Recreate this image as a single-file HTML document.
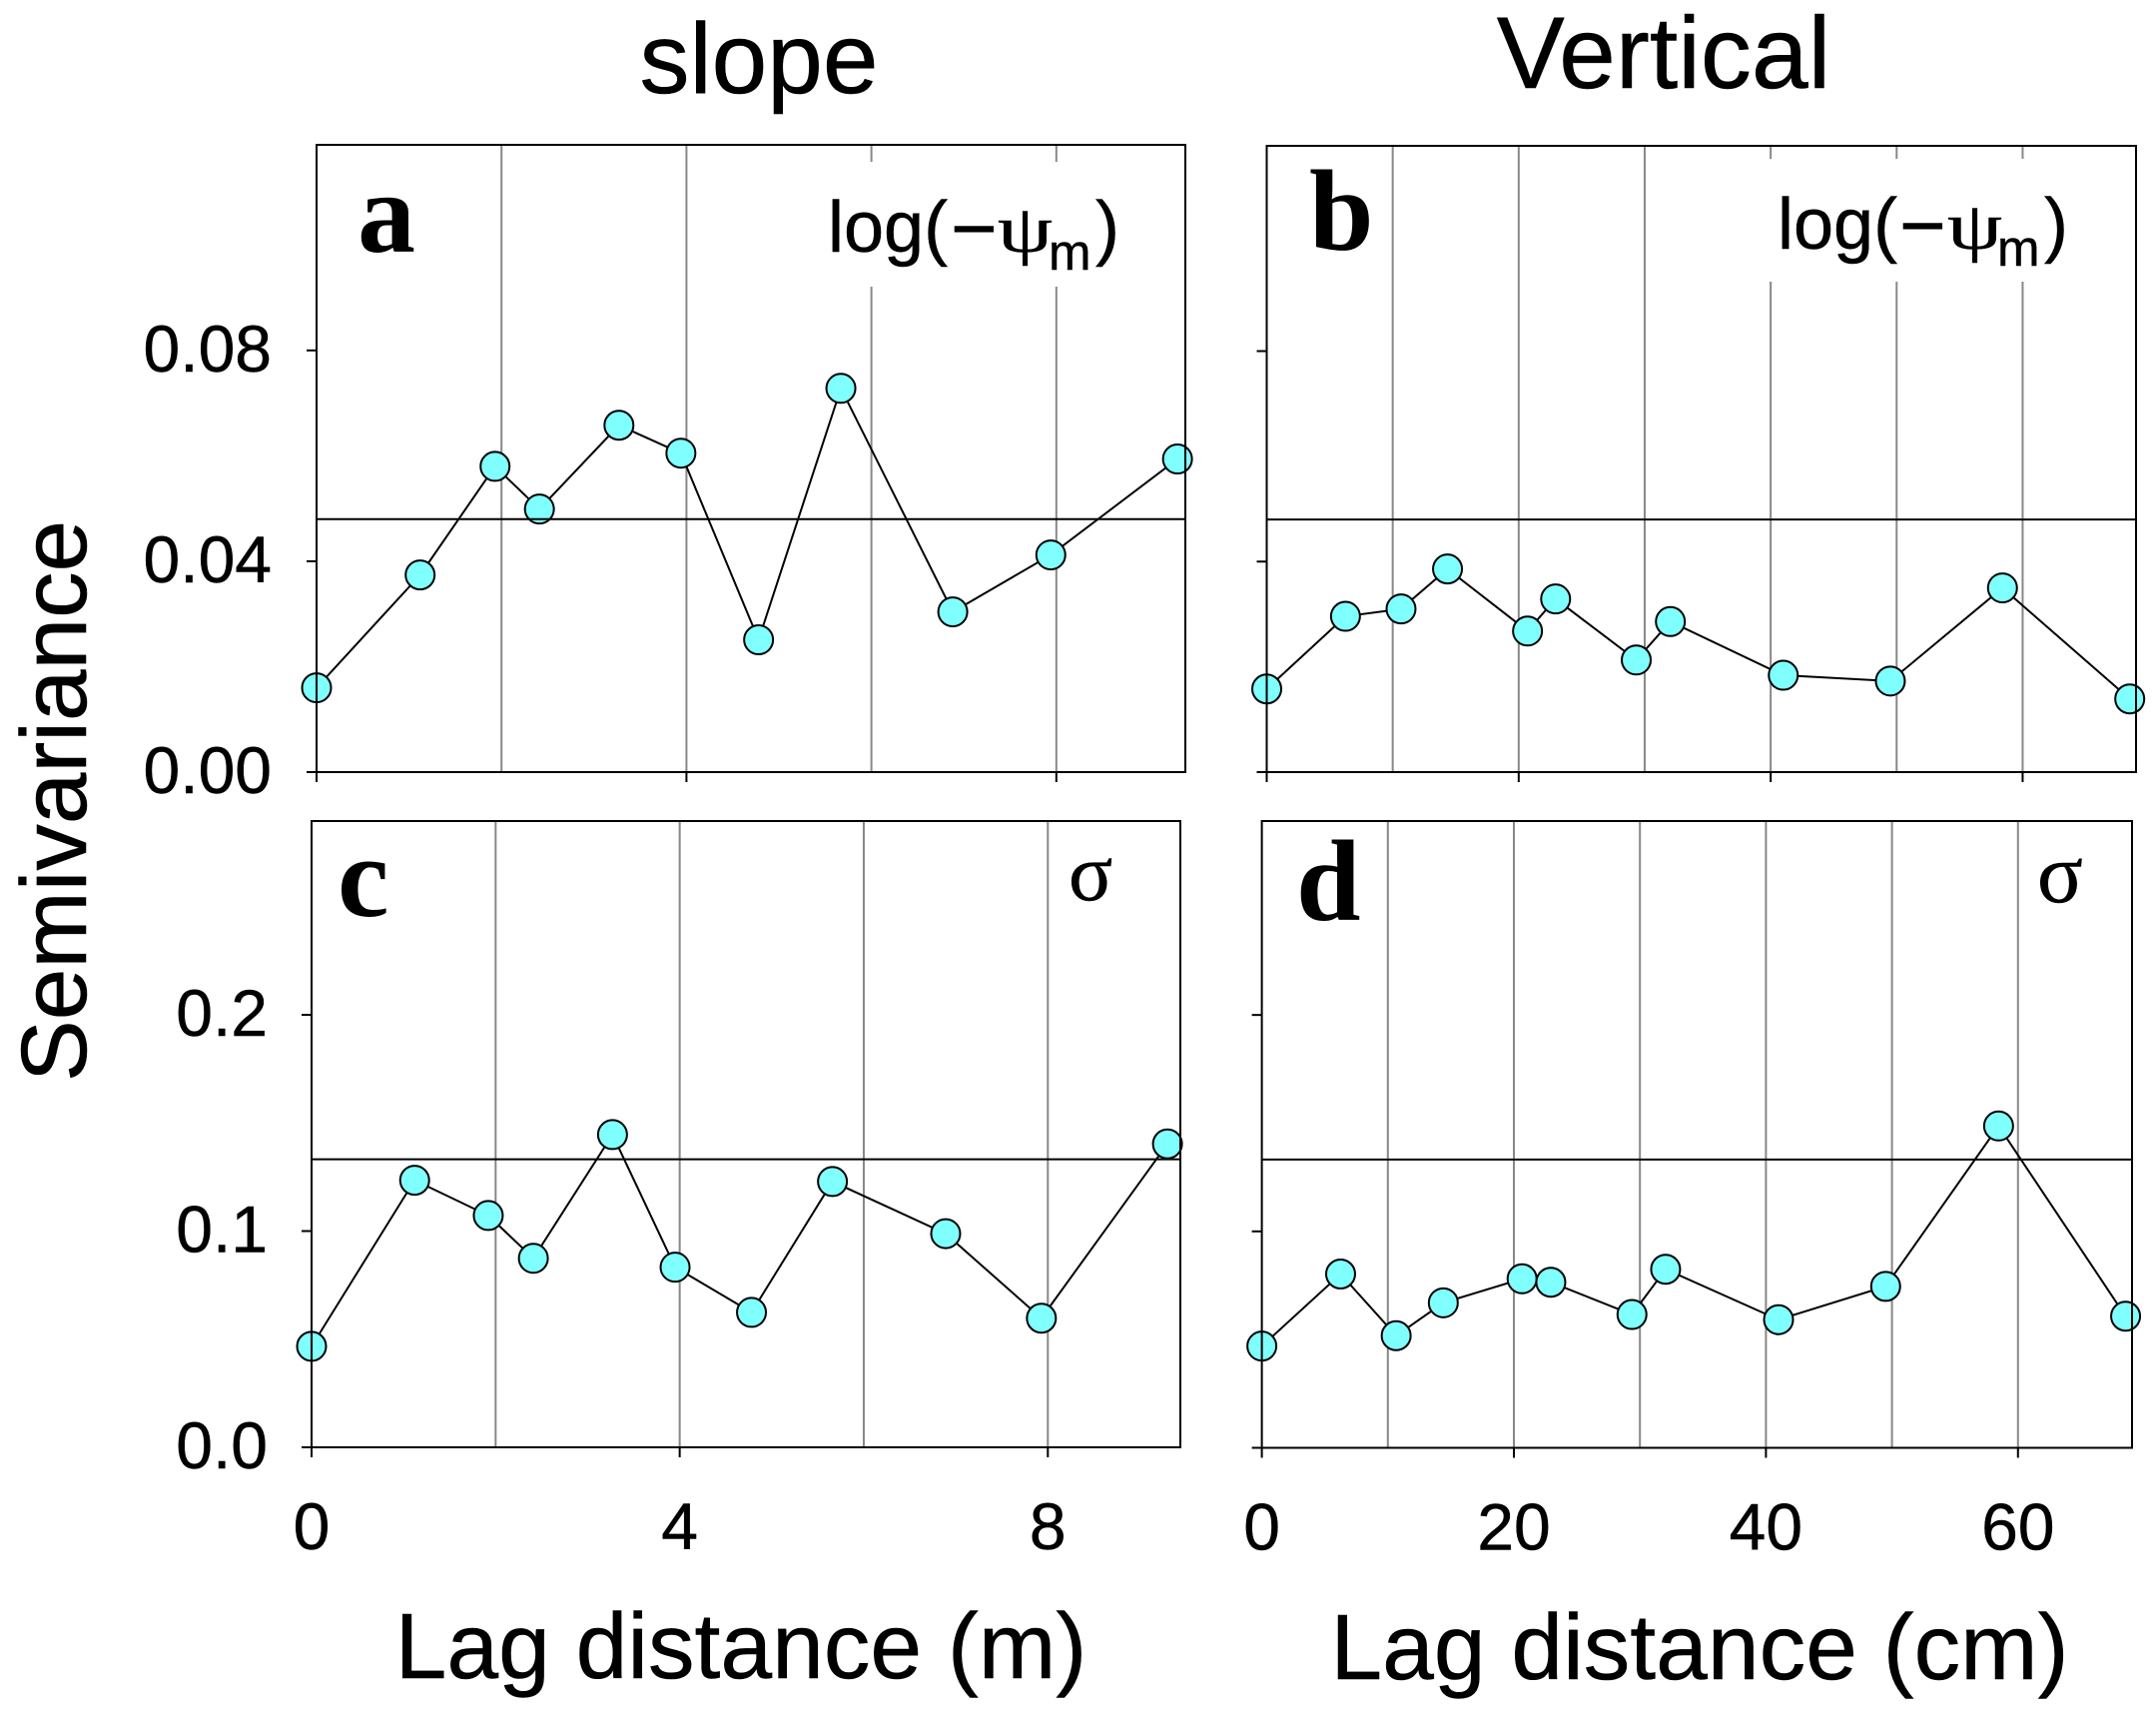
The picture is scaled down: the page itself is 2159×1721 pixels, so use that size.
<!DOCTYPE html>
<html lang="en">
<head>
<meta charset="utf-8">
<title>Semivariance versus lag distance</title>
<style>
  html, body { margin: 0; padding: 0; background: #fff; }
  svg { display: block; }
  text { font-family: "Liberation Sans", sans-serif; fill: #000; stroke: #000; stroke-width: 0.5px; }
  .letter { font-family: "Liberation Serif", serif; font-weight: bold; font-size: 116px; stroke: none; }
  .greek { font-family: "Liberation Serif", serif; }
</style>
</head>
<body>
<svg id="chart" xmlns="http://www.w3.org/2000/svg" width="2159" height="1721" viewBox="0 0 2159 1721">
  <rect width="2159" height="1721" fill="#fff"/>
  <text x="760" y="93" font-size="100" text-anchor="middle">slope</text>
  <text x="1666" y="88" font-size="102" text-anchor="middle">Vertical</text>
  <text transform="translate(86 802) rotate(-90)" font-size="92.8" text-anchor="middle">Semivariance</text>
  <text x="742" y="1680" font-size="93" text-anchor="middle">Lag distance (m)</text>
  <text x="1702" y="1681" font-size="93" text-anchor="middle">Lag distance (cm)</text>
  <g id="panels"></g>
  <text class="letter" x="358" y="252">a</text>
  <text class="letter" x="1311" y="250">b</text>
  <text class="letter" x="338" y="917">c</text>
  <text class="letter" x="1298" y="921">d</text>
  <g>
    <text x="829" y="252" font-size="72">log(</text>
    <text x="952" y="256" font-size="80">&#8722;</text>
    <text class="greek" transform="translate(999 252) scale(1.22 0.92)" font-size="72">&#968;</text>
    <text x="1050" y="270" font-size="51">m</text>
    <text x="1097" y="252" font-size="72">)</text>
  </g>
  <g>
    <text x="1780" y="249" font-size="72">log(</text>
    <text x="1902" y="253" font-size="80">&#8722;</text>
    <text class="greek" transform="translate(1950 249) scale(1.22 0.92)" font-size="72">&#968;</text>
    <text x="2000" y="266" font-size="51">m</text>
    <text x="2047" y="249" font-size="72">)</text>
  </g>
  <text class="greek" x="1070" y="901" font-size="82">&#963;</text>
  <text class="greek" x="2040" y="903" font-size="85">&#963;</text>
</svg>
<script>
// Panel a: log(-psi_m) on the slope
const aLag = [0, 1.12, 1.93, 2.41, 3.27, 3.94, 4.78, 5.67, 6.88, 7.94, 9.31];
const aValues = [0.016, 0.0374, 0.058, 0.0499, 0.0658, 0.0605, 0.0251, 0.0728, 0.0304, 0.0412, 0.0594];
const aSill = 0.048;
// Panel b: log(-psi_m) vertical
const bLag = [0, 6.25, 10.66, 14.35, 20.7, 22.93, 29.33, 32.04, 41, 49.5, 58.4, 68.5];
const bValues = [0.0158, 0.0296, 0.031, 0.0386, 0.0268, 0.0329, 0.0213, 0.0286, 0.0184, 0.0173, 0.035, 0.0139];
const bSill = 0.048;
// Panel c: sigma on the slope
const cLag = [0, 1.12, 1.92, 2.41, 3.27, 3.95, 4.78, 5.66, 6.89, 7.93, 9.3];
const cValues = [0.0467, 0.1235, 0.1072, 0.0874, 0.1446, 0.0833, 0.0624, 0.1229, 0.0988, 0.0597, 0.1403];
const cSill = 0.1332;
// Panel d: sigma vertical
const dLag = [0, 6.25, 10.66, 14.4, 20.65, 22.93, 29.37, 32.04, 41, 49.5, 58.46, 68.54];
const dValues = [0.047, 0.0803, 0.0518, 0.067, 0.0781, 0.0765, 0.0616, 0.0825, 0.0592, 0.0746, 0.1487, 0.0608];
const dSill = 0.1332;
// Axis ticks and labels
const slopeXTicks = [0, 4, 8];
const slopeXGrid = [2, 4, 6, 8];
const slopeXLabels = ["0", "4", "8"];
const verticalXTicks = [0, 20, 40, 60];
const verticalXGrid = [10, 20, 30, 40, 50, 60];
const verticalXLabels = ["0", "20", "40", "60"];
const upperYTicks = [0, 0.04, 0.08];
const upperYLabels = ["0.00", "0.04", "0.08"];
const lowerYTicks = [0, 0.1, 0.2];
const lowerYLabels = ["0.0", "0.1", "0.2"];

const NS = "http://www.w3.org/2000/svg";
const root = document.getElementById("panels");

function make(parent, tag, attrs) {
  const el = document.createElementNS(NS, tag);
  for (const k in attrs) el.setAttribute(k, attrs[k]);
  parent.appendChild(el);
  return el;
}

function drawPanel(p) {
  const sx = v => p.left + (v / p.xMax) * (p.right - p.left);
  const sy = v => p.bottom - (v / p.yMax) * (p.bottom - p.top);

  const g = make(root, "g", {});
  
  

  p.grid.forEach(v => {
    const gl = make(g, "line", { x1: sx(v), x2: sx(v), y1: p.top, y2: p.bottom, stroke: "#888", "stroke-width": 2 });
    
    
  });

  if (p.mask) {
    const m = make(g, "rect", { x: p.mask[0], y: p.mask[1], width: p.mask[2], height: p.mask[3], fill: "#fff" });
    
    
  }

  const pts = p.lag.map((v, i) => sx(v) + "," + sy(p.values[i])).join(" ");
  const series = make(g, "polyline", { points: pts, fill: "none", stroke: "#000", "stroke-width": 2 });
  
  

  p.lag.forEach((v, i) => {
    const c = make(g, "ellipse", { cx: sx(v), cy: sy(p.values[i]), rx: 14.5, ry: 14.5, fill: "#80ffff", stroke: "#000", "stroke-width": 2 });
    
    
  });

  const sill = make(g, "line", { x1: p.left, x2: p.right, y1: sy(p.sill), y2: sy(p.sill), stroke: "#000", "stroke-width": 2 });
  
  

  const frame = make(g, "rect", { x: p.left, y: p.top, width: p.right - p.left, height: p.bottom - p.top, fill: "none", stroke: "#000", "stroke-width": 2 });
  
  

  p.yTicks.forEach((v, i) => {
    const t = make(g, "line", { x1: p.left - 10, x2: p.left, y1: sy(v), y2: sy(v), stroke: "#000", "stroke-width": 2 });
    
    
    if (p.yLabels) {
      const l = make(g, "text", { x: p.yLabelX, y: sy(v) + 21, "font-size": 66, "text-anchor": "end" });
      l.textContent = p.yLabels[i];
      
      
    }
  });

  p.xTicks.forEach((v, i) => {
    const t = make(g, "line", { x1: sx(v), x2: sx(v), y1: p.bottom, y2: p.bottom + 10, stroke: "#000", "stroke-width": 2 });
    
    
    if (p.xLabels) {
      const l = make(g, "text", { x: sx(v), y: p.bottom + 102, "font-size": 66, "text-anchor": "middle" });
      l.textContent = p.xLabels[i];
      
      
    }
  });
}

drawPanel({ id: "a", left: 317, right: 1187, top: 145, bottom: 773, xMax: 9.395, yMax: 0.119,
  lag: aLag, values: aValues, sill: aSill, grid: slopeXGrid, xTicks: slopeXTicks, yTicks: upperYTicks,
  yLabels: upperYLabels, yLabelX: 272, mask: [790, 162, 360, 125] });
drawPanel({ id: "b", left: 1268.5, right: 2139, top: 146, bottom: 773, xMax: 69, yMax: 0.119,
  lag: bLag, values: bValues, sill: bSill, grid: verticalXGrid, xTicks: verticalXTicks, yTicks: upperYTicks,
  mask: [1730, 159, 370, 123] });
drawPanel({ id: "c", left: 312, right: 1182, top: 822, bottom: 1449, xMax: 9.44, yMax: 0.2896,
  lag: cLag, values: cValues, sill: cSill, grid: slopeXGrid, xTicks: slopeXTicks, yTicks: lowerYTicks,
  xLabels: slopeXLabels, yLabels: lowerYLabels, yLabelX: 268 });
drawPanel({ id: "d", left: 1263.6, right: 2135, top: 822, bottom: 1449.5, xMax: 69.05, yMax: 0.2896,
  lag: dLag, values: dValues, sill: dSill, grid: verticalXGrid, xTicks: verticalXTicks, yTicks: lowerYTicks,
  xLabels: verticalXLabels });
</script>
</body>
</html>
